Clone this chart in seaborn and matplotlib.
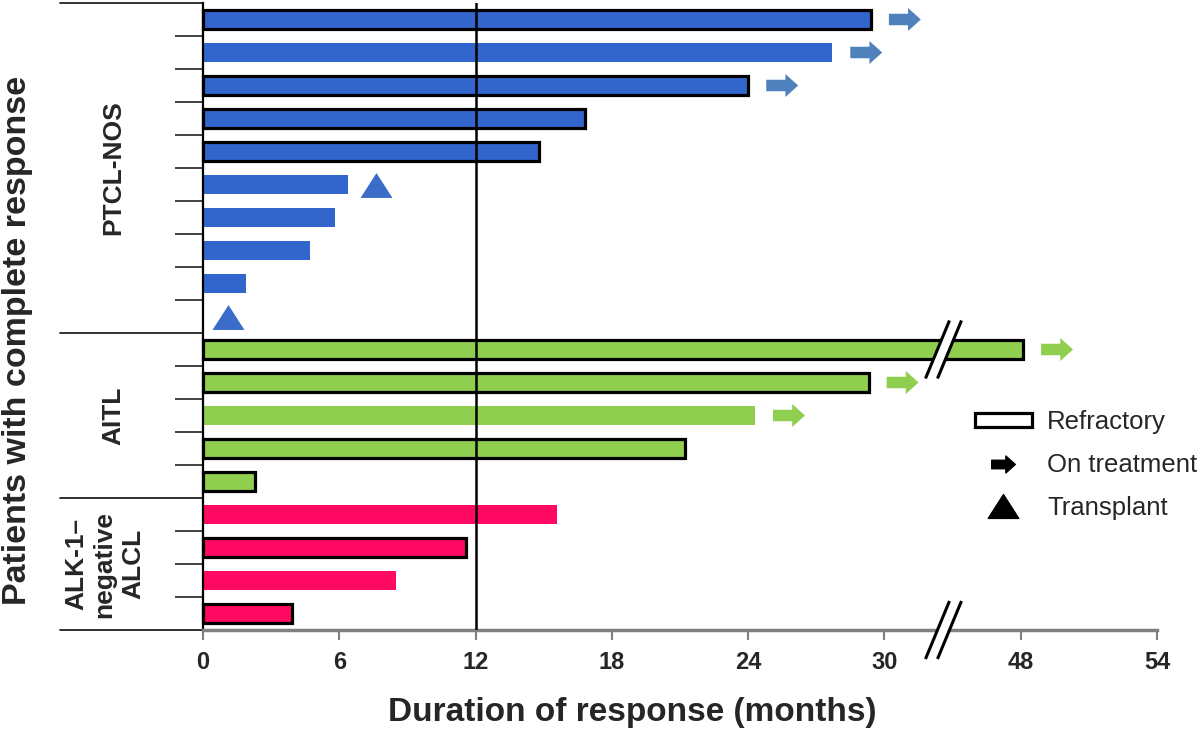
import numpy as np
import pandas as pd
import matplotlib
matplotlib.use("Agg")
import matplotlib.pyplot as plt
import seaborn as sns
from matplotlib.path import Path
from matplotlib.patches import Rectangle
from matplotlib.lines import Line2D

# ---------------- data ----------------
groups = ["PTCL-NOS"] * 10 + ["AITL"] * 5 + ["ALK-1–negative ALCL"] * 4
durations = [29.4, 27.7, 24.0, 16.8, 14.8, 6.4, 5.8, 4.7, 1.9, 0.0,
             48.1, 29.3, 24.3, 21.2, 2.3,
             15.6, 11.6, 8.5, 3.9]
refractory = [1, 0, 1, 1, 1, 0, 0, 0, 0, 0,
              1, 1, 0, 1, 1,
              0, 1, 0, 1]
on_treatment = [1, 1, 1, 0, 0, 0, 0, 0, 0, 0,
                1, 1, 1, 0, 0,
                0, 0, 0, 0]
transplant_month = [None, None, None, None, None, 7.6, None, None, None, 1.1,
                    None, None, None, None, None,
                    None, None, None, None]
xtick_values = [0, 6, 12, 18, 24, 30, 48, 54]
group_labels = ["PTCL-NOS", "AITL", "ALK-1–\nnegative\nALCL"]
group_names = ["PTCL-NOS", "AITL", "ALK-1–negative ALCL"]
bar_colors = {"PTCL-NOS": "#3366CC", "AITL": "#8FCE4F", "ALK-1–negative ALCL": "#FF0A63"}
arrow_colors = {"PTCL-NOS": "#4F81BD", "AITL": "#8FCE4F", "ALK-1–negative ALCL": "#FF0A63"}
triangle_color = "#3B6CC9"

# broken axis: months above BREAK_AT are shifted left by GAP
BREAK_AT, GAP = 33, 12


def to_visual(v):
    return v if v <= BREAK_AT else v - GAP


n = len(durations)
patients = [f"P{i+1}" for i in range(n)]
df = pd.DataFrame({
    "patient": patients,
    "group": groups,
    "visual": [to_visual(v) for v in durations],
    "row": np.arange(n),
})

# ---------------- figure ----------------
sns.set_style("white")
plt.rcParams["font.family"] = ["Liberation Sans", "DejaVu Sans"]
narrow = ["Liberation Sans Narrow", "Liberation Sans", "DejaVu Sans"]

fig = plt.figure(figsize=(12, 7.3), dpi=100)
W, H = 1200, 730
ax = fig.add_axes([203 / W, 1 - 630 / H, (1157 - 203) / W, (630 - 3) / H])

sns.barplot(data=df, x="visual", y="patient", hue="group", order=patients,
            hue_order=group_names, palette=bar_colors, dodge=False, width=0.55,
            saturation=1, legend=False, orient="h", ax=ax, linewidth=0)

for p in ax.patches:
    row = int(round(p.get_y() + p.get_height() / 2))
    p.set_clip_on(False)
    if 0 <= row < n and refractory[row]:
        p.set_edgecolor("black")
        p.set_linewidth(2.3)

# arrow marker
arrow_verts = [(-1, -0.36), (0.2, -0.36), (0.2, -0.72), (1, 0), (0.2, 0.72),
               (0.2, 0.36), (-1, 0.36), (-1, -0.36)]
arrow_path = Path(arrow_verts, [Path.MOVETO] + [Path.LINETO] * 6 + [Path.CLOSEPOLY])
tri_verts = [(-1, -0.78), (1, -0.78), (0, 0.78), (-1, -0.78)]
tri_path = Path(tri_verts, [Path.MOVETO, Path.LINETO, Path.LINETO, Path.CLOSEPOLY])

arr = df[np.array(on_treatment) == 1].copy()
arr["ax_x"] = arr["visual"] + 1.5
sns.scatterplot(data=arr, x="ax_x", y="row", hue="group", palette=arrow_colors,
                marker=arrow_path, s=23 ** 2, linewidth=0, legend=False, ax=ax,
                clip_on=False, zorder=4)

tp = pd.DataFrame({"x": [t for t in transplant_month if t is not None],
                   "row": [i for i, t in enumerate(transplant_month) if t is not None]})
sns.scatterplot(data=tp, x="x", y="row", marker=tri_path, s=23 ** 2,
                color=triangle_color, linewidth=0, legend=False, ax=ax,
                clip_on=False, zorder=4)

# 12-month reference line
ax.axvline(12, color="black", lw=1.8, zorder=3)

# axes limits / ticks
ax.set_xlim(0, 42)
ax.set_ylim(n - 0.5, -0.5)
ax.set_xticks([to_visual(v) for v in xtick_values])
ax.set_xticklabels([str(v) for v in xtick_values], fontweight="bold",
                   fontsize=17, family=narrow)
ax.tick_params(axis="x", bottom=True, direction="out", length=7, width=1.5,
               color="#7f7f7f", pad=8)

sizes = [groups.count(g) for g in group_names]
bounds = np.cumsum([0] + sizes) - 0.5
inner = [r + 0.5 for r in range(n - 1) if (r + 0.5) not in bounds]
ax.set_yticks(inner)
ax.set_yticklabels([])
ax.tick_params(axis="y", left=True, direction="out", length=20, width=1.3,
               color="#333333")
ax.set_xlabel("")
ax.set_ylabel("")

for s in ["top", "right"]:
    ax.spines[s].set_visible(False)
ax.spines["left"].set_color("black")
ax.spines["left"].set_linewidth(1.6)
ax.spines["bottom"].set_color("#808080")
ax.spines["bottom"].set_linewidth(2.5)

# group separators and labels
trans = ax.get_yaxis_transform()
for b in bounds:
    ax.plot([-0.15, 0], [b, b], transform=trans, color="#222222", lw=1.3,
            clip_on=False)
label_x = [-0.094, -0.094, -0.103]
for i, lab in enumerate(group_labels):
    yc = (bounds[i] + bounds[i + 1]) / 2
    ax.text(label_x[i], yc, lab, transform=trans, rotation=90, ha="center",
            va="center", fontsize=19, fontweight="bold", linespacing=1.25)

# break marks
px_x = 42 / (1157 - 203)
px_y = 1 / 33.0


def break_mark(xc, yc):
    dx, dy = 12 * px_x, 29 * px_y
    ax.fill([xc - 6 * px_x - dx, xc + 6 * px_x - dx, xc + 6 * px_x + dx, xc - 6 * px_x + dx],
            [yc + dy, yc + dy, yc - dy, yc - dy], color="white", zorder=5,
            clip_on=False, lw=0)
    for off in (-6 * px_x, 6 * px_x):
        ax.plot([xc + off - dx, xc + off + dx], [yc + dy, yc - dy], color="black",
                lw=2.2, zorder=6, clip_on=False, solid_capstyle="butt")


break_x = 32.6
break_mark(break_x, 10)
break_mark(break_x, n - 0.5)

# labels
fig.text(18 / W, 1 - 340 / H, "Patients with complete response", rotation=90,
         ha="center", va="center", fontsize=24.5, fontweight="bold")
fig.text(632 / W, 1 - 712 / H, "Duration of response (months)", ha="center",
         va="center", fontsize=24, fontweight="bold", family=narrow)

# legend
handles = [Rectangle((0, 0), 1, 1, facecolor="white", edgecolor="black", lw=2.3),
           Line2D([], [], marker=arrow_path, color="black", markersize=17, linestyle="none"),
           Line2D([], [], marker=tri_path, color="black", markersize=22, linestyle="none")]
fig.legend(handles, ["Refractory", "On treatment", "Transplant"],
           loc="center left", bbox_to_anchor=(975 / W, 1 - 465 / H), frameon=False,
           fontsize=18.5, handlelength=2.2, handleheight=0.45, labelspacing=0.72,
           handletextpad=0.6, borderpad=0, borderaxespad=0)

fig.savefig("out.png", dpi=100)
